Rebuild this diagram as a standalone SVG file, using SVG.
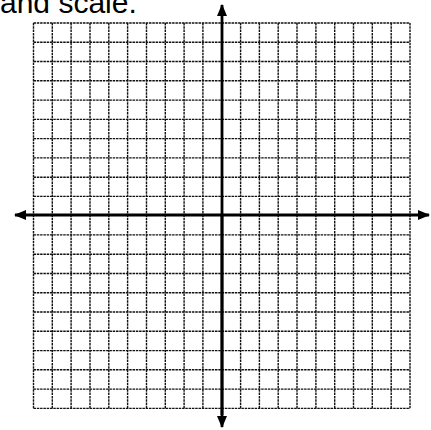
<svg xmlns="http://www.w3.org/2000/svg" width="431" height="430" viewBox="0 0 431 430">
<style>
.g{stroke:#111;stroke-width:1.4;stroke-dasharray:2.5 0.8;fill:none}
.ax{stroke:#000;stroke-width:2.8;fill:none}
.t{font-family:"Liberation Sans",Arial,sans-serif;font-size:30px;fill:#000}
</style>
<defs>
<marker id="ah" viewBox="0 0 12 10" refX="11" refY="5" markerWidth="12" markerHeight="10" markerUnits="userSpaceOnUse" orient="auto">
<path d="M0,0 L12,5 L0,10 Z" fill="#000"/>
</marker>
</defs>
<rect width="431" height="430" fill="#fff"/>
<text class="t" x="0" y="12.5">and scale.</text>
<g id="grid">
<path class="g" d="M33.5,23V408.4 M52.3,23V408.4 M71.1,23V408.4 M90,23V408.4 M108.8,23V408.4 M127.6,23V408.4 M146.5,23V408.4 M165.3,23V408.4 M184.1,23V408.4 M202.9,23V408.4 M240.6,23V408.4 M259.4,23V408.4 M278.2,23V408.4 M297,23V408.4 M315.9,23V408.4 M334.7,23V408.4 M353.5,23V408.4 M372.3,23V408.4 M391.2,23V408.4 M410,23V408.4"/>
<path class="g" d="M33.5,23H410 M33.5,42.3H410 M33.5,61.5H410 M33.5,80.8H410 M33.5,100.1H410 M33.5,119.4H410 M33.5,138.6H410 M33.5,157.9H410 M33.5,177.2H410 M33.5,196.4H410 M33.5,234.9H410 M33.5,254.2H410 M33.5,273.5H410 M33.5,292.8H410 M33.5,312H410 M33.5,331.3H410 M33.5,350.6H410 M33.5,369.8H410 M33.5,389.1H410 M33.5,408.4H410"/>
</g>
<g id="axes">
<line class="ax" x1="222" y1="415" x2="222" y2="5" marker-end="url(#ah)"/>
<line class="ax" x1="222" y1="215" x2="222" y2="427" marker-end="url(#ah)"/>
<line class="ax" x1="222" y1="215" x2="15" y2="215" marker-end="url(#ah)"/>
<line class="ax" x1="222" y1="215" x2="429" y2="215" marker-end="url(#ah)"/>
</g>
</svg>
